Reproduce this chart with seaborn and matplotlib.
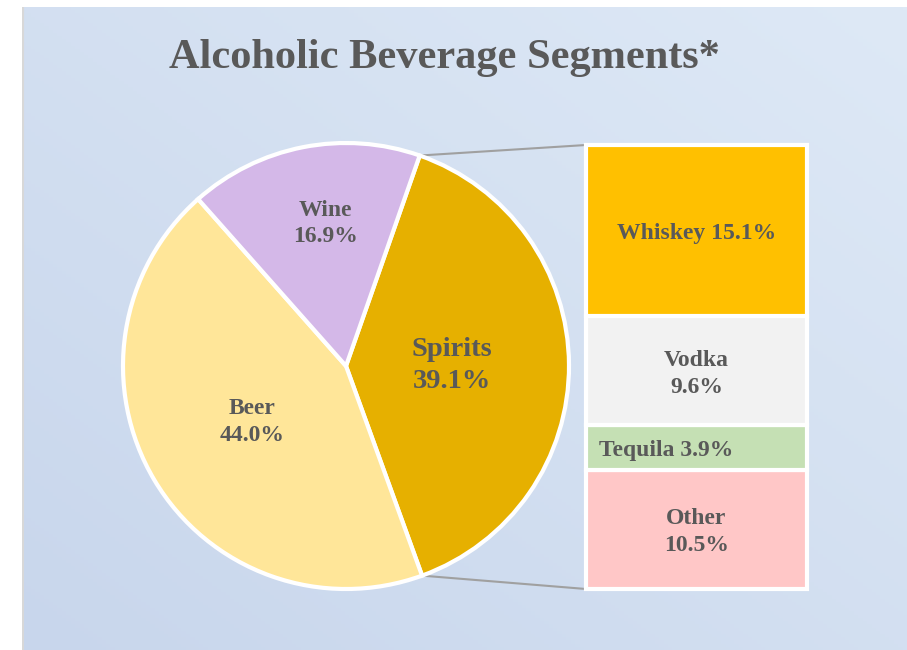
import numpy as np
import matplotlib
matplotlib.use("Agg")
import matplotlib.pyplot as plt
import matplotlib.transforms as mtransforms
import seaborn as sns
from matplotlib.patches import ConnectionPatch

# Market share of alcoholic beverage segments (%)
segments = ["Spirits", "Beer", "Wine"]
segment_share = [39.1, 44.0, 16.9]
segment_colors = ["#e6b000", "#ffe699", "#d4b8e8"]

# Breakdown of spirits (%), bottom to top
spirit_types = ["Other", "Tequila", "Vodka", "Whiskey"]
spirit_share = [10.5, 3.9, 9.6, 15.1]
spirit_colors = ["#ffc7c7", "#c5e0b4", "#f2f2f2", "#ffc000"]

title = "Alcoholic Beverage Segments*"

sns.set_theme(style="white")
plt.rcParams["font.family"] = ["Liberation Serif", "DejaVu Serif"]
TXT = "#595959"

W, H = 907, 650
fig = plt.figure(figsize=(W / 100, H / 100), dpi=100)
fig.patch.set_facecolor("white")

# Gradient backdrop panel
bg = fig.add_axes([22 / W, 0, (W - 22) / W, (H - 7) / H])
bg.set_zorder(-5)
bg.set_axis_off()
yy, xx = np.mgrid[0:1:200j, 0:1:200j]
t = (xx + yy) / 2.0  # 0 at bottom-left, 1 at top-right
c0 = np.array([0xc8, 0xd6, 0xec]) / 255
c1 = np.array([0xde, 0xe9, 0xf6]) / 255
img = c0[None, None, :] * (1 - t[..., None]) + c1[None, None, :] * t[..., None]
bg.imshow(img, aspect="auto", extent=[0, 1, 0, 1], origin="lower")
bg.set_xlim(0, 1)
bg.set_ylim(0, 1)
bg.axvline(0.001, color="#d8d8d8", lw=1.5)

fig.text(444 / W, 1 - 58 / H, title, ha="center", va="center",
         fontsize=30.5, fontweight="bold", color=TXT)

# Pie of segments
cx, cy, r = 346, 366, 223
ax_pie = fig.add_axes([(cx - r) / W, (H - cy - r) / H, 2 * r / W, 2 * r / H])
start = 70.7
wedges, _ = ax_pie.pie(segment_share, colors=segment_colors, startangle=start,
                       counterclock=False,
                       wedgeprops=dict(edgecolor="white", linewidth=3, clip_on=False))
ax_pie.set_xlim(-1, 1)
ax_pie.set_ylim(-1, 1)
ax_pie.set_axis_off()

# label anchor (radius, angle shift in degrees) relative to each wedge's middle
label_pos = {"Spirits": (0.475, 0.0), "Beer": (0.49, 0.0), "Wine": (0.645, -3.0)}
label_size = {"Spirits": 20.5, "Beer": 17, "Wine": 17}
for w, name, val in zip(wedges, segments, segment_share):
    d, shift = label_pos[name]
    mid = np.deg2rad((w.theta1 + w.theta2) / 2 + shift)
    ax_pie.text(d * np.cos(mid), d * np.sin(mid), f"{name}\n{val:.1f}%",
                ha="center", va="center", fontsize=label_size[name],
                fontweight="bold", color=TXT, linespacing=1.35)

# Stacked bar of spirits breakdown
bx0, bx1, by0, by1 = 586, 807, 145, 589
ax_bar = fig.add_axes([bx0 / W, (H - by1) / H, (bx1 - bx0) / W, (by1 - by0) / H])
bottoms = np.concatenate([[0], np.cumsum(spirit_share)[:-1]])
total = float(np.sum(spirit_share))
ax_bar.bar([0] * len(spirit_share), spirit_share, bottom=bottoms, width=1.0,
           color=spirit_colors, edgecolor="white", linewidth=3, clip_on=False)
ax_bar.set_xlim(-0.5, 0.5)
ax_bar.set_ylim(0, total)
ax_bar.set_axis_off()

lbl_tr = mtransforms.offset_copy(ax_bar.transData, fig=fig, y=-3, units="dots")
for name, val, b in zip(spirit_types, spirit_share, bottoms):
    yc = b + val / 2
    if name == "Whiskey":
        ax_bar.text(0, yc, f"{name} {val:.1f}%", ha="center", va="center",
                    fontsize=17, fontweight="bold", color=TXT, transform=lbl_tr)
    elif name == "Tequila":
        ax_bar.text(-0.44, yc, f"{name} {val:.1f}%", ha="left", va="center",
                    fontsize=17, fontweight="bold", color=TXT, transform=lbl_tr)
    else:
        ax_bar.text(0, yc, f"{name}\n{val:.1f}%", ha="center", va="center",
                    fontsize=17, fontweight="bold", color=TXT, linespacing=1.38,
                    transform=lbl_tr)

# Connector lines from the spirits wedge to the bar
sp = wedges[0]
for ang, ybar in [(sp.theta2, total), (sp.theta1, 0)]:
    a = np.deg2rad(ang)
    con = ConnectionPatch(xyA=(np.cos(a), np.sin(a)), coordsA=ax_pie.transData,
                          xyB=(-0.5, ybar), coordsB=ax_bar.transData,
                          color="#a0a0a0", lw=1.5, zorder=-1)
    fig.add_artist(con)

fig.savefig("out.png", dpi=100)
